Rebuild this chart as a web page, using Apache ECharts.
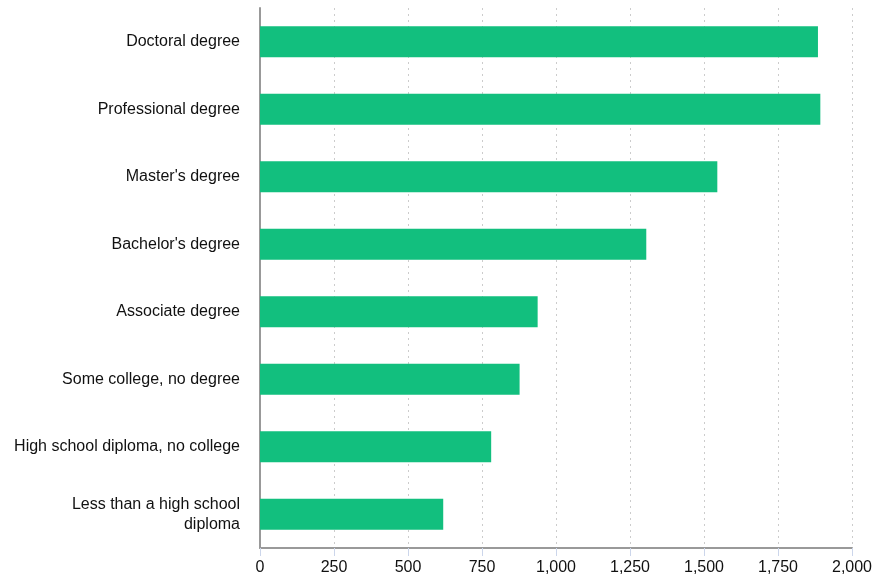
<!DOCTYPE html>
<html>
<head>
<meta charset="utf-8">
<script src="https://cdn.jsdelivr.net/npm/echarts@6/dist/echarts.min.js"></script>
<style>html,body{margin:0;padding:0;background:#fff}#c{width:876px;height:578px}</style>
</head>
<body>
<div id="c"></div>
<script>
const categories = [
  "Doctoral degree",
  "Professional degree",
  "Master's degree",
  "Bachelor's degree",
  "Associate degree",
  "Some college, no degree",
  "High school diploma, no college",
  "Less than a high school\ndiploma"
];
const earnings = [1885, 1893, 1545, 1305, 938, 877, 781, 619];
const xTicks = { min: 0, max: 2000, interval: 250 };

const chart = echarts.init(document.getElementById('c'), null, { renderer: 'canvas' });
chart.setOption({
  animation: false,
  grid: { left: 260, right: 24, top: 8, bottom: 30, containLabel: false },
  xAxis: {
    type: 'value',
    min: xTicks.min, max: xTicks.max, interval: xTicks.interval,
    axisLine: { show: true, lineStyle: { color: '#999', width: 2 } },
    axisTick: { show: true, length: 8, lineStyle: { color: '#ccd6eb' } },
    axisLabel: {
      color: '#111', fontSize: 16, fontFamily: 'Liberation Sans, Arial, sans-serif', margin: 12,
      formatter: v => v.toLocaleString('en-US')
    },
    splitLine: { show: true, lineStyle: { color: '#cccccc', type: [2, 4], width: 1 } }
  },
  yAxis: {
    type: 'category',
    data: categories,
    inverse: true,
    axisLine: { show: true, lineStyle: { color: '#999', width: 2 } },
    axisTick: { show: false },
    axisLabel: {
      color: '#111', fontSize: 16, fontFamily: 'Liberation Sans, Arial, sans-serif', margin: 20,
      lineHeight: 20, align: 'right'
    },
    splitLine: { show: false }
  },
  series: [{
    type: 'bar',
    data: earnings,
    barWidth: '46%',
    itemStyle: { color: '#12bf7e' }
  }]
});
</script>
</body>
</html>
